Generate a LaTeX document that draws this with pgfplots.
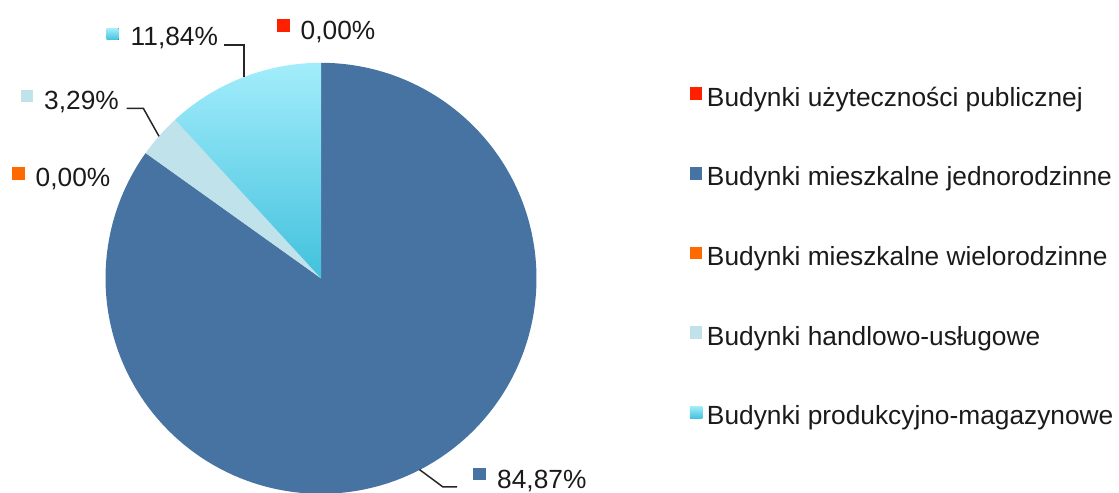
\documentclass[border=0pt]{standalone}
\usepackage{pgfplots}
\pgfplotsset{compat=1.18}
\usepackage{fontspec}
\setmainfont{Liberation Sans}
\definecolor{cRed}{HTML}{FF2000}
\definecolor{cBlue}{HTML}{4673A1}
\definecolor{cOrange}{HTML}{FF6A00}
\definecolor{cLight}{HTML}{C0E2EA}
\definecolor{cCyanTop}{HTML}{A3EDFB}
\definecolor{cCyanBot}{HTML}{42C1DD}
\definecolor{txt}{HTML}{1A1A1A}
\definecolor{lead}{HTML}{262626}
\newcommand{\lblfont}{\fontsize{26.3bp}{30bp}\selectfont}
\begin{document}
\begin{tikzpicture}
\useasboundingbox (0,0) rectangle (1119bp,493bp);
% shares in percent
\pgfmathsetmacro{\pRed}{0.00}
\pgfmathsetmacro{\pBlue}{84.87}
\pgfmathsetmacro{\pOrange}{0.00}
\pgfmathsetmacro{\pLight}{3.29}
\pgfmathsetmacro{\pCyan}{11.84}
% cumulative angles, clockwise from the top
\pgfmathsetmacro{\aA}{90-3.6*\pRed}
\pgfmathsetmacro{\aB}{\aA-3.6*\pBlue}
\pgfmathsetmacro{\aC}{\aB-3.6*\pOrange}
\pgfmathsetmacro{\aD}{\aC-3.6*\pLight}
\pgfmathsetmacro{\aE}{\aD-3.6*\pCyan}
\begin{axis}[
  at={(0,0)}, anchor=south west,
  scale only axis, width=1119bp, height=493bp,
  xmin=0, xmax=1119, ymin=0, ymax=493,
  hide axis, clip=false,
  legend cell align=left,
  legend style={draw=none, fill=none, inner sep=0pt, outer sep=0pt,
    at={(0.6166,0.8229)}, anchor=north west,
    row sep=60.9bp, column sep=4.5bp,
    font=\lblfont, text=txt,
    nodes={inner sep=0pt, text height=18.8bp, text depth=0pt}},
  legend image code/.code={\fill[#1] (0bp,-3.1bp) rectangle (12.5bp,9.4bp);},
]
\addlegendimage{draw=none, fill=cRed}
\addlegendentry{Budynki użyteczności publicznej}
\addplot[draw=none, fill=cBlue, domain=\aB:\aA, samples=240, variable=\t]
  ({321+215.5*cos(\t)}, {214.7+215.5*sin(\t)}) -- (axis cs:321,214.7) -- cycle;
\addlegendentry{Budynki mieszkalne jednorodzinne}
\addlegendimage{draw=none, fill=cOrange}
\addlegendentry{Budynki mieszkalne wielorodzinne}
\addplot[draw=none, fill=cLight, domain=\aD:\aC, samples=30, variable=\t]
  ({321+215.5*cos(\t)}, {214.7+215.5*sin(\t)}) -- (axis cs:321,214.7) -- cycle;
\addlegendentry{Budynki handlowo-usługowe}
\addplot[draw=none, top color=cCyanTop, bottom color=cCyanBot, domain=\aE:\aD, samples=80, variable=\t]
  ({321+215.5*cos(\t)}, {214.7+215.5*sin(\t)}) -- (axis cs:321,214.7) -- cycle;
\addlegendentry{Budynki produkcyjno-magazynowe}

% leader lines
\draw[lead, line width=1.5bp] (axis cs:224,448) -- (axis cs:244,448) -- (axis cs:244,415.5);
\draw[lead, line width=1.5bp] (axis cs:126.7,384.7) -- (axis cs:143.3,384.7) -- (axis cs:159,356.7);
\draw[lead, line width=1.5bp] (axis cs:457,6) -- (axis cs:443,6) -- (axis cs:419.5,23.4);

% data labels
\fill[cRed] (axis cs:276.7,461.3) rectangle (axis cs:290,473.7);
\node[anchor=base west, inner sep=0pt, font=\lblfont, text=txt] at (axis cs:300.5,453) {0,00\%};
\fill[top color=cCyanTop, bottom color=cCyanBot] (axis cs:106.7,453) rectangle (axis cs:118.5,464.7);
\node[anchor=base west, inner sep=0pt, font=\lblfont, text=txt] at (axis cs:130.5,447) {11,84\%};
\fill[cLight] (axis cs:20.7,391.3) rectangle (axis cs:33.3,403);
\node[anchor=base west, inner sep=0pt, font=\lblfont, text=txt] at (axis cs:44,383.7) {3,29\%};
\fill[cOrange] (axis cs:11.7,313) rectangle (axis cs:25,326.3);
\node[anchor=base west, inner sep=0pt, font=\lblfont, text=txt] at (axis cs:35.5,306.3) {0,00\%};
\fill[cBlue] (axis cs:473,13) rectangle (axis cs:486,24.7);
\node[anchor=base west, inner sep=0pt, font=\lblfont, text=txt] at (axis cs:497,4.7) {84,87\%};
\end{axis}
\end{tikzpicture}
\end{document}
